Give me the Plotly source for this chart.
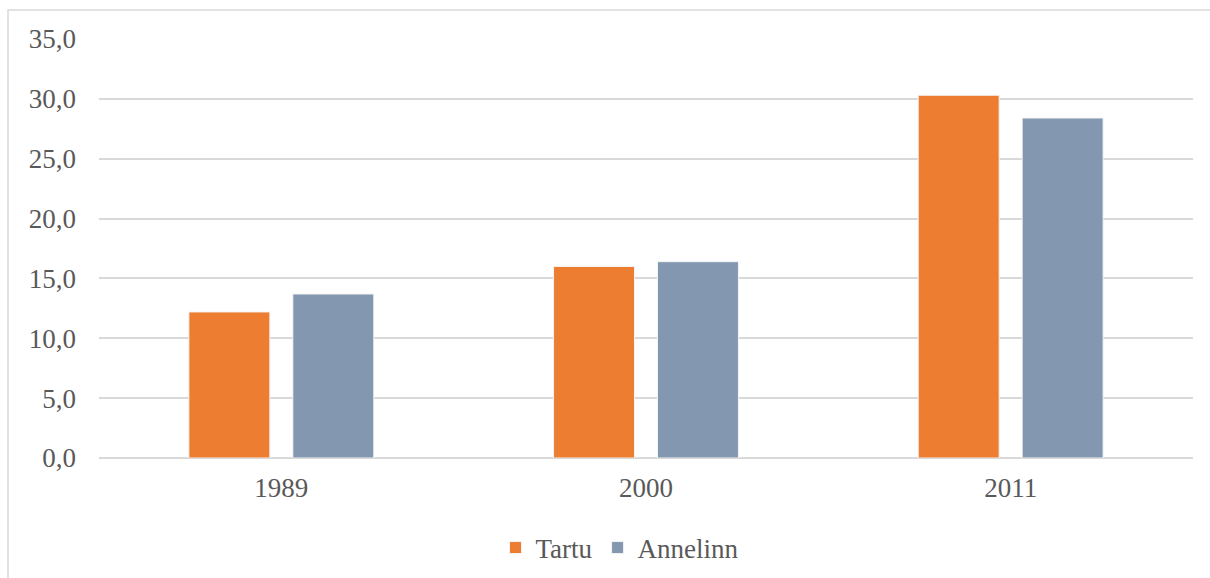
import plotly.graph_objects as go

years = ["1989", "2000", "2011"]
tartu = [12.2, 16.0, 30.3]
annelinn = [13.7, 16.4, 28.4]
y_ticks = [0, 5, 10, 15, 20, 25, 30, 35]

ORANGE = "#ED7D31"
BLUE = "#8497B0"
TEXT = "#595959"
GRID = "#D9D9D9"
FONT = "Liberation Serif, Times New Roman, serif"

fig = go.Figure()
fig.add_trace(go.Bar(name="Tartu", x=years, y=tartu,
                     marker=dict(color=ORANGE, line=dict(color="#F4F4F4", width=1))))
fig.add_trace(go.Bar(name="Annelinn", x=years, y=annelinn,
                     marker=dict(color=BLUE, line=dict(color="#F4F4F4", width=1))))

fig.update_layout(
    width=1210, height=578,
    margin=dict(l=99, r=17, t=39, b=120),
    paper_bgcolor="white", plot_bgcolor="white",
    font=dict(family=FONT, size=27, color=TEXT),
    separators=", ",
    barmode="group", bargap=0.43, bargroupgap=0.221,
    showlegend=True,
    legend=dict(orientation="h", xref="container", yref="container",
                x=620 / 1210, xanchor="center", y=1 - 548 / 578, yanchor="middle",
                font=dict(family=FONT, size=27, color=TEXT), itemwidth=30,
                bgcolor="rgba(0,0,0,0)"),
    xaxis=dict(type="category", showgrid=False, showline=False, ticks="", automargin=False,
               ticklabelstandoff=11, tickfont=dict(family=FONT, size=27, color=TEXT)),
    yaxis=dict(range=[0, 35], tickvals=y_ticks, tickformat=".1f", showgrid=True,
               gridcolor=GRID, gridwidth=1.5, zeroline=True, zerolinecolor=GRID,
               zerolinewidth=1.5, showline=False, ticks="", ticklabelstandoff=22,
               automargin=False, tickfont=dict(family=FONT, size=27, color=TEXT)),
    shapes=[dict(type="rect", xref="paper", yref="paper",
                 x0=(8 - 99) / 1094, x1=1.05, y0=-0.4, y1=1 + 29 / 419,
                 line=dict(color="#D9D9D9", width=1.5), fillcolor="rgba(0,0,0,0)",
                 layer="below")],
)

fig.write_html("out.html", config={"displayModeBar": False},
               post_script="document.body.style.margin='0';document.body.style.overflow='hidden';")
